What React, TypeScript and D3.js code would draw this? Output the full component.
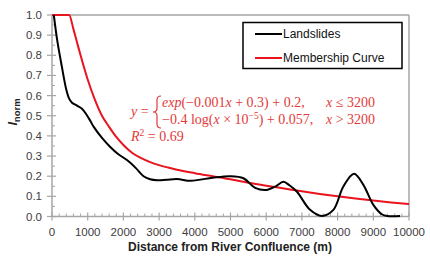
import React from 'react';
import * as d3 from 'd3';

// landslide index (distance m, I_norm)
const landslideX = [50, 150, 280, 400, 480, 560, 700, 840, 950, 1072, 1165, 1400, 1632, 1850, 2100, 2350, 2565, 2750, 2940, 3200, 3500, 3870, 4150, 4500, 4990, 5363, 5690, 6017, 6250, 6482, 6650, 6857, 7229, 7557, 7881, 8161, 8461, 8721, 9001, 9250, 9400, 9750];
const landslideY = [1.0, 0.87, 0.74, 0.63, 0.585, 0.565, 0.55, 0.535, 0.51, 0.475, 0.446, 0.39, 0.345, 0.31, 0.28, 0.24, 0.2, 0.185, 0.18, 0.182, 0.186, 0.177, 0.183, 0.192, 0.2, 0.19, 0.142, 0.132, 0.148, 0.172, 0.155, 0.124, 0.033, 0.003, 0.033, 0.149, 0.212, 0.157, 0.058, 0.01, 0.002, 0.002];

// membership curve
const curveX = [0, 480, 600, 700, 800, 1000, 1200, 1400, 1600, 1800, 2000, 2250, 2500, 2750, 3000, 3250, 3500, 4000, 4500, 5000, 5500, 6000, 6500, 7000, 7500, 8000, 8500, 9000, 9500, 10000];
const curveY = [1.0, 1.0, 0.93, 0.865, 0.8, 0.68, 0.58, 0.5, 0.445, 0.395, 0.355, 0.315, 0.29, 0.27, 0.255, 0.243, 0.232, 0.215, 0.2, 0.185, 0.168, 0.153, 0.139, 0.125, 0.112, 0.1, 0.089, 0.079, 0.07, 0.062];

const xTicks = [0, 1000, 2000, 3000, 4000, 5000, 6000, 7000, 8000, 9000, 10000];
const yTicks = [0, 0.1, 0.2, 0.3, 0.4, 0.5, 0.6, 0.7, 0.8, 0.9, 1.0];
const legendLabels = ['Landslides', 'Membership Curve'];

const W = 430;
const H = 260;
const left = 52;
const right = 409;
const top = 15;
const bottom = 216.5;
const axisGray = '#a6a6a6';
const labelColor = '#404040';
const eqColor = '#e23a3a';

export default function App() {
  const x = d3.scaleLinear().domain([0, 10000]).range([left, right]);
  const y = d3.scaleLinear().domain([0, 1]).range([bottom, top]);

  const blackLine = d3.line<number>()
    .x((d, i) => x(landslideX[i]))
    .y((d) => y(d))
    .curve(d3.curveCatmullRom.alpha(0.5));
  const redLine = d3.line<number>()
    .x((d, i) => x(curveX[i]))
    .y((d) => y(d))
    .curve(d3.curveMonotoneX);

  const xMinor = d3.range(0, 10001, 200).filter((v) => v % 1000 !== 0);
  const yMinor = d3.range(0, 1.001, 0.05).filter((v) => Math.round(v * 100) % 10 !== 0);

  const font = "'Liberation Sans', Arial, sans-serif";
  const serif = "'Liberation Serif', 'Times New Roman', serif";

  // curly brace of the piecewise equation
  const bx = 157;
  const brace = `M${bx + 4},96 Q${bx},96 ${bx},100 L${bx},108 Q${bx},112 ${bx - 4},112 Q${bx},112 ${bx},116 L${bx},124 Q${bx},128 ${bx + 4},128`;

  return (
    <svg width={W} height={H} style={{ position: 'absolute', left: 0, top: 0, background: '#fff' }}>
      {/* frame */}
      <line x1={left} x2={right} y1={top} y2={top} stroke={axisGray} strokeWidth={1.5} />
      <line x1={right} x2={right} y1={top} y2={bottom} stroke={axisGray} strokeWidth={1.5} />
      <line x1={left} x2={left} y1={top} y2={bottom} stroke={axisGray} strokeWidth={1.5} />
      <line x1={left} x2={right} y1={bottom} y2={bottom} stroke={axisGray} strokeWidth={1.5} />

      {/* y ticks */}
      {yTicks.map((t) => (
        <g key={'y' + t}>
          <line x1={left - 5} x2={left + 4} y1={y(t)} y2={y(t)} stroke={axisGray} strokeWidth={1.2} />
          <text x={left - 10} y={y(t)} dy="0.35em" textAnchor="end" fontSize={11.5} fontFamily={font} fill={labelColor}>
            {t.toFixed(1)}
          </text>
        </g>
      ))}
      {yMinor.map((t) => (
        <line key={'ym' + t} x1={left} x2={left + 3} y1={y(t)} y2={y(t)} stroke={axisGray} strokeWidth={1} />
      ))}

      {/* x ticks */}
      {xTicks.map((t) => (
        <g key={'x' + t}>
          <line x1={x(t)} x2={x(t)} y1={bottom - 4} y2={bottom + 4} stroke={axisGray} strokeWidth={1.2} />
          <text x={x(t)} y={236} textAnchor="middle" fontSize={11.5} fontFamily={font} fill={labelColor}>
            {t}
          </text>
        </g>
      ))}
      {xMinor.map((t) => (
        <line key={'xm' + t} x1={x(t)} x2={x(t)} y1={bottom - 3} y2={bottom} stroke={axisGray} strokeWidth={1} />
      ))}

      {/* series */}
      <path d={redLine(curveY) || ''} fill="none" stroke="#e8141e" strokeWidth={2} />
      <path d={blackLine(landslideY) || ''} fill="none" stroke="#000" strokeWidth={2} />

      {/* axis titles */}
      <text x={230} y={251} textAnchor="middle" fontSize={12} fontWeight="bold" fontFamily={font} fill="#222">
        Distance from River Confluence (m)
      </text>
      <text transform="translate(17,112) rotate(-90)" textAnchor="middle" fontSize={12.5} fontWeight="bold" fontFamily={font} fill="#222">
        <tspan fontStyle="italic">I</tspan>
        <tspan fontSize={9.5} dy={3}>norm</tspan>
      </text>

      {/* legend */}
      <rect x={243} y={22.5} width={159} height={46} fill="#fff" stroke="#000" strokeWidth={1.5} />
      {legendLabels.map((lab, i) => (
        <g key={lab}>
          <line x1={255} x2={282} y1={34 + i * 24} y2={34 + i * 24} stroke={i === 0 ? '#000' : '#e8141e'} strokeWidth={2} />
          <text x={283} y={34 + i * 24} dy="0.36em" fontSize={12} fontFamily={font} fill="#111">
            {lab}
          </text>
        </g>
      ))}

      {/* equation */}
      <path d={brace} fill="none" stroke={eqColor} strokeWidth={1.2} />
      <g fontFamily={serif} fontSize={14} fill={eqColor}>
        <text x={131} y={116}>
          <tspan fontStyle="italic">y</tspan> =
        </text>
        <text x={162} y={107}>
          <tspan fontStyle="italic">exp</tspan>(−0.001<tspan fontStyle="italic">x</tspan> + 0.3) + 0.2,
        </text>
        <text x={326} y={107}>
          <tspan fontStyle="italic">x</tspan> ≤ 3200
        </text>
        <text x={162} y={124}>
          −0.4 log(<tspan fontStyle="italic">x</tspan> × 10<tspan fontSize={9.5} dy={-5}>−5</tspan><tspan dy={5}>) + 0.057,</tspan>
        </text>
        <text x={326} y={124}>
          <tspan fontStyle="italic">x</tspan> &gt; 3200
        </text>
        <text x={131} y={141}>
          <tspan fontStyle="italic">R</tspan><tspan fontSize={9.5} dy={-5}>2</tspan><tspan dy={5}> = 0.69</tspan>
        </text>
      </g>
    </svg>
  );
}
